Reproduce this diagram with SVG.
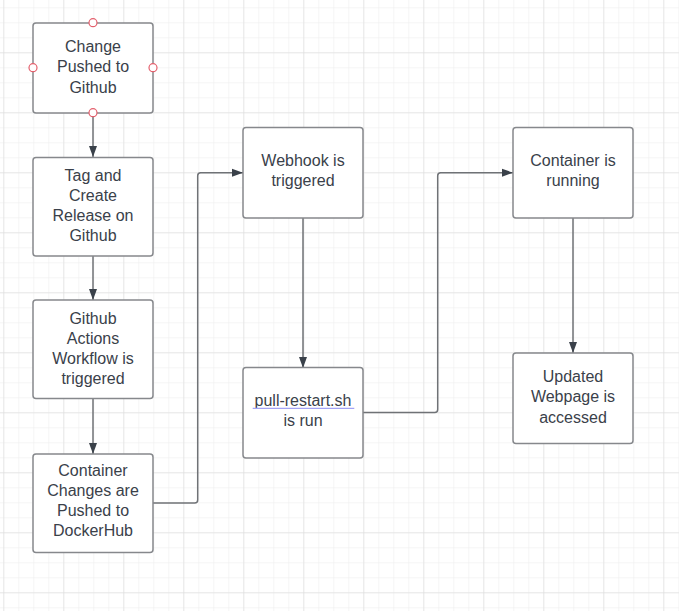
<svg xmlns="http://www.w3.org/2000/svg" width="679" height="611" viewBox="0 0 679 611">
<style>
.box{fill:#ffffff;stroke:#86888c;stroke-width:1.5}
.t{font-family:"Liberation Sans",Arial,sans-serif;font-size:16px;fill:#3a414a;text-anchor:middle}
.c{fill:none;stroke:#6f7276;stroke-width:1.5}
.h{fill:#ffffff;stroke:#e4606d;stroke-width:1.2}
</style>
<defs>
<pattern id="minor" patternUnits="userSpaceOnUse" x="3.3" y="7.3" width="15" height="15">
<path d="M0,0 V15 M0,0 H15" fill="none" stroke="#ebebeb" stroke-width="1"/>
</pattern>
<pattern id="major" patternUnits="userSpaceOnUse" x="3.3" y="52.3" width="60" height="60">
<path d="M0,0 V60 M0,0 H60" fill="none" stroke="#d9d9d9" stroke-width="1"/>
</pattern>
<marker id="arr" markerUnits="userSpaceOnUse" markerWidth="12" markerHeight="10" refX="11" refY="4" orient="auto" viewBox="0 0 12 8">
<path d="M0,0 L11,4 L0,8 z" fill="#3a414a"/>
</marker>
</defs>
<rect width="679" height="611" fill="#ffffff"/>
<rect width="679" height="611" fill="url(#minor)"/>
<rect width="679" height="611" fill="url(#major)"/>

<g id="connectors">
<path class="c" d="M93,113 V157" marker-end="url(#arr)"/>
<path class="c" d="M93,256 V300" marker-end="url(#arr)"/>
<path class="c" d="M93,398 V454" marker-end="url(#arr)"/>
<path class="c" d="M153,503 H194.7 Q197.7,503 197.7,500 V175.7 Q197.7,172.7 200.7,172.7 H243" marker-end="url(#arr)"/>
<path class="c" d="M303,218 V368" marker-end="url(#arr)"/>
<path class="c" d="M363,412.5 H434.7 Q437.7,412.5 437.7,409.5 V175.7 Q437.7,172.7 440.7,172.7 H513" marker-end="url(#arr)"/>
<path class="c" d="M573,218 V353" marker-end="url(#arr)"/>
</g>

<g id="node-change">
<rect class="box" x="33" y="23" width="120" height="90" rx="3"/>
<text class="t" x="93" y="52">Change</text>
<text class="t" x="93" y="72">Pushed to</text>
<text class="t" x="93" y="92.5">Github</text>
<circle class="h" cx="93" cy="22.7" r="4"/>
<circle class="h" cx="33" cy="67.7" r="4"/>
<circle class="h" cx="153" cy="67.7" r="4"/>
<circle class="h" cx="93" cy="112.7" r="4"/>
</g>

<g id="node-tag">
<rect class="box" x="33" y="157.5" width="120" height="98.5" rx="3"/>
<text class="t" x="93" y="181">Tag and</text>
<text class="t" x="93" y="201">Create</text>
<text class="t" x="93" y="221">Release on</text>
<text class="t" x="93" y="241">Github</text>
</g>

<g id="node-actions">
<rect class="box" x="33" y="300" width="120" height="98.5" rx="3"/>
<text class="t" x="93" y="324">Github</text>
<text class="t" x="93" y="344">Actions</text>
<text class="t" x="93" y="364">Workflow is</text>
<text class="t" x="93" y="384">triggered</text>
</g>

<g id="node-dockerhub">
<rect class="box" x="33" y="454" width="120" height="98.5" rx="3"/>
<text class="t" x="93" y="476">Container</text>
<text class="t" x="93" y="496">Changes are</text>
<text class="t" x="93" y="516">Pushed to</text>
<text class="t" x="93" y="536">DockerHub</text>
</g>

<g id="node-webhook">
<rect class="box" x="243" y="127.5" width="120" height="90.5" rx="3"/>
<text class="t" x="303" y="166">Webhook is</text>
<text class="t" x="303" y="186">triggered</text>
</g>

<g id="node-pull">
<rect class="box" x="243" y="367.5" width="120" height="90.5" rx="3"/>
<text class="t" x="303" y="406">pull-restart.sh</text>
<line x1="252.7" y1="408.3" x2="354.3" y2="408.3" stroke="#a3a3f5" stroke-width="1.3"/>
<text class="t" x="303" y="426">is run</text>
</g>

<g id="node-running">
<rect class="box" x="513" y="127.5" width="120" height="90.5" rx="3"/>
<text class="t" x="573" y="166">Container is</text>
<text class="t" x="573" y="186">running</text>
</g>

<g id="node-updated">
<rect class="box" x="513" y="353" width="120" height="90.5" rx="3"/>
<text class="t" x="573" y="382">Updated</text>
<text class="t" x="573" y="402">Webpage is</text>
<text class="t" x="573" y="422.5">accessed</text>
</g>
</svg>
